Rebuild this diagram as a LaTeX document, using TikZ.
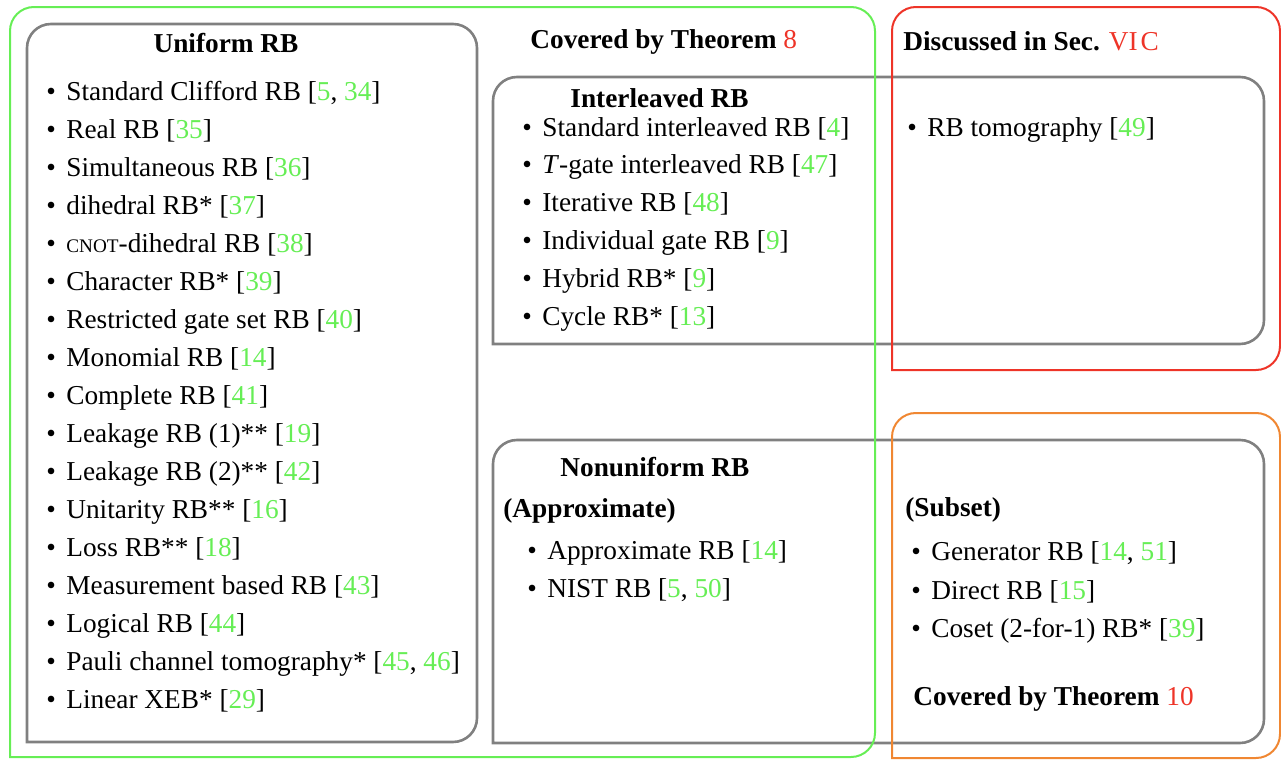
\documentclass[tikz,border=0pt]{standalone}
\usepackage{fontspec}
\setmainfont{Liberation Serif}
\definecolor{refgreen}{RGB}{102,238,85}
\definecolor{thmred}{RGB}{238,52,40}
\definecolor{boxorange}{RGB}{240,135,50}
\definecolor{boxgray}{RGB}{128,128,128}
\newcommand\g[1]{\textcolor{refgreen}{#1}}
\newcommand\redref[1]{\textcolor{thmred}{\mdseries #1}}
\newcommand\cnotsc{{\fontsize{9.6}{10}\selectfont CNOT}}
\newcommand\blt{\makebox[10pt][l]{\textbullet}}
% frame with rounded TL, TR, BR corners and square BL corner
\newcommand\rbframe[5]{\draw[#1] (#2,#5) -- (#2,#3+24) .. controls (#2,#3+10.7) and (#2+10.7,#3) .. (#2+24,#3) -- (#4-24,#3) .. controls (#4-10.7,#3) and (#4,#3+10.7) .. (#4,#3+24) -- (#4,#5-24) .. controls (#4,#5-10.7) and (#4-10.7,#5) .. (#4-24,#5) -- cycle;}
\begin{document}
\begin{tikzpicture}[x=0.5pt,y=-0.5pt,
  item/.style={anchor=base west, inner sep=0pt, font=\fontsize{13.65}{16}\selectfont},
  title/.style={anchor=base west, inner sep=0pt, font=\fontsize{13.65}{16}\selectfont\bfseries},
  grayframe/.style={draw=boxgray, line width=1.3pt},
  greenframe/.style={draw=refgreen, line width=1pt},
  redframe/.style={draw=thmred, line width=1pt},
  orangeframe/.style={draw=boxorange, line width=1pt}]
\useasboundingbox (0,0) rectangle (1281,760);
% gray category boxes
\rbframe{grayframe}{27}{24}{477}{742}
\rbframe{grayframe}{493}{77}{1264}{344}
\rbframe{grayframe}{493}{440}{1264}{743}
% coloured theorem boxes
\rbframe{greenframe}{10}{7}{875}{757}
\rbframe{redframe}{892}{7}{1280}{370}
\rbframe{orangeframe}{892}{413}{1280}{758}
% titles
\node[title, anchor=base] (uniT) at (226,52) {Uniform RB};
\node[title] (thm8) at (530,48) {Covered by Theorem \redref{8}};
\node[title] (interT) at (570,107) {Interleaved RB};
\node[title] (secT) at (903,50) {Discussed in Sec. \redref{VI\kern1.5pt C}};
\node[title] (nonT) at (560,476) {Nonuniform RB};
\node[title] (approxT) at (503,517) {(Approximate)};
\node[title] (subsetT) at (905,516) {(Subset)};
\node[title] (thm10) at (913,705) {Covered by Theorem \redref{10}};
% uniform RB list
\foreach \t [count=\i from 0] in {
  {Standard Clifford RB [\g{5}, \g{34}]},
  {Real RB [\g{35}]},
  {Simultaneous RB [\g{36}]},
  {dihedral RB* [\g{37}]},
  {\cnotsc-dihedral RB [\g{38}]},
  {Character RB* [\g{39}]},
  {Restricted gate set RB [\g{40}]},
  {Monomial RB [\g{14}]},
  {Complete RB [\g{41}]},
  {Leakage RB (1)** [\g{19}]},
  {Leakage RB (2)** [\g{42}]},
  {Unitarity RB** [\g{16}]},
  {Loss RB** [\g{18}]},
  {Measurement based RB [\g{43}]},
  {Logical RB [\g{44}]},
  {Pauli channel tomography* [\g{45}, \g{46}]},
  {Linear XEB* [\g{29}]}}
  \node[item] (u\i) at (46,100+38*\i) {\blt\t};
% interleaved RB list
\foreach \t [count=\i from 0] in {
  {Standard interleaved RB [\g{4}]},
  {\textit{T}-gate interleaved RB [\g{47}]},
  {Iterative RB [\g{48}]},
  {Individual gate RB [\g{9}]},
  {Hybrid RB* [\g{9}]},
  {Cycle RB* [\g{13}]}}
  \node[item] (i\i) at (522,136+37.8*\i) {\blt\t};
% discussed
\node[item] (tomo) at (907,136) {\blt RB tomography [\g{49}]};
% nonuniform approximate
\node[item] (a0) at (527,559) {\blt Approximate RB [\g{14}]};
\node[item] (a1) at (527,597) {\blt NIST RB [\g{5}, \g{50}]};
% subset
\node[item] (s0) at (911,560) {\blt Generator RB [\g{14}, \g{51}]};
\node[item] (s1) at (911,599) {\blt Direct RB [\g{15}]};
\node[item] (s2) at (911,637) {\blt Coset (2-for-1) RB* [\g{39}]};
\end{tikzpicture}
\end{document}
